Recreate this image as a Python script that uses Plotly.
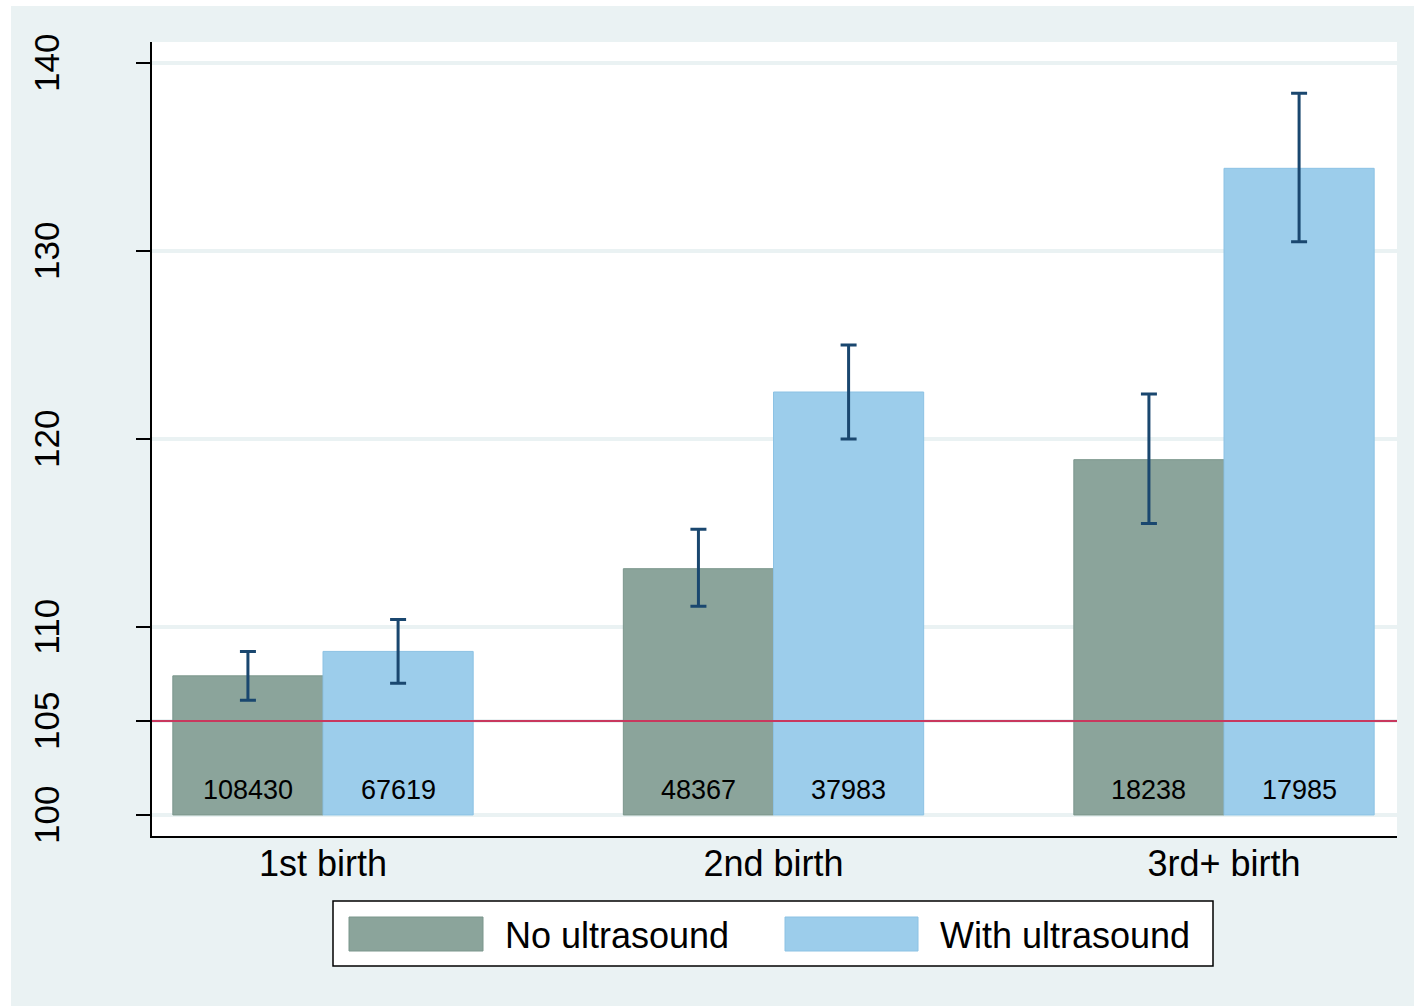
import plotly.graph_objects as go

# ---- data ----
categories = ["1st birth", "2nd birth", "3rd+ birth"]
series_names = ["No ultrasound", "With ultrasound"]
no_us_ratio = [107.4, 113.1, 118.9]
no_us_lo = [106.1, 111.1, 115.5]
no_us_hi = [108.7, 115.2, 122.4]
with_us_ratio = [108.7, 122.5, 134.4]
with_us_lo = [107.0, 120.0, 130.5]
with_us_hi = [110.4, 125.0, 138.4]
no_us_n = [108430, 48367, 18238]
with_us_n = [67619, 37983, 17985]
ytick_vals = [100, 105, 110, 120, 130, 140]
reference_ratio = 105
base_value = 100

# ---- style ----
W, H = 1414, 1006
ML, MR, MT, MB = 152, 17, 42, 170
PW, PH = W - ML - MR, H - MT - MB
BG = "#eaf2f3"
C_NO = "#8ba49b"
C_NO_LINE = "#7b968c"
C_WITH = "#9ccdeb"
C_WITH_LINE = "#8cc2e4"
C_ERR = "#1a476f"
C_RED = "#c8385e"
FONT = "Liberation Sans, Arial, sans-serif"
BAR_W = 1 / 3
X_RANGE = [-0.3796, 2.384]


def px(x):
    return (x - ML) / PW


def py(y):
    return (H - MB - y) / PH


fig = go.Figure()

# reference line (drawn first so bars cover it)
fig.add_trace(go.Scatter(
    x=X_RANGE, y=[reference_ratio, reference_ratio], mode="lines",
    line=dict(color=C_RED, width=2), showlegend=False, hoverinfo="skip",
))

series = [
    (series_names[0], no_us_ratio, no_us_lo, no_us_hi, no_us_n, C_NO, C_NO_LINE, -BAR_W / 2),
    (series_names[1], with_us_ratio, with_us_lo, with_us_hi, with_us_n, C_WITH, C_WITH_LINE, BAR_W / 2),
]

annotations = []
for name, vals, lo, hi, ns, col, lcol, off in series:
    xs = [i + off for i in range(len(categories))]
    fig.add_trace(go.Bar(
        x=xs, y=[v - base_value for v in vals], base=[base_value] * len(vals),
        width=BAR_W, name=name, marker=dict(color=col, line=dict(color=lcol, width=1)),
        showlegend=False, hoverinfo="skip",
    ))
    fig.add_trace(go.Scatter(
        x=xs, y=vals, mode="markers", marker=dict(size=0.1, color="rgba(0,0,0,0)"),
        error_y=dict(type="data", symmetric=False,
                     array=[h - v for h, v in zip(hi, vals)],
                     arrayminus=[v - l for v, l in zip(vals, lo)],
                     color=C_ERR, thickness=3, width=8),
        showlegend=False, hoverinfo="skip",
    ))
    for x, n in zip(xs, ns):
        annotations.append(dict(x=x, y=base_value, xref="x", yref="y", text=str(n),
                                showarrow=False, yanchor="bottom", yshift=8,
                                font=dict(size=27, color="black", family=FONT)))

shapes = [
    dict(type="rect", xref="paper", yref="paper", x0=px(11), x1=px(W + 5), y0=py(H + 5), y1=py(6),
         fillcolor=BG, line=dict(width=0), layer="below"),
    dict(type="rect", xref="paper", yref="paper", x0=0, x1=1, y0=0, y1=1,
         fillcolor="white", line=dict(width=0), layer="below"),
    # legend box
    dict(type="rect", xref="paper", yref="paper", x0=px(333), x1=px(1213), y0=py(966), y1=py(901),
         fillcolor="white", line=dict(color="black", width=1.5), layer="above"),
    dict(type="rect", xref="paper", yref="paper", x0=px(349), x1=px(483), y0=py(951), y1=py(917),
         fillcolor=C_NO, line=dict(color=C_NO_LINE, width=1), layer="above"),
    dict(type="rect", xref="paper", yref="paper", x0=px(785), x1=px(918), y0=py(951), y1=py(917),
         fillcolor=C_WITH, line=dict(color=C_WITH_LINE, width=1), layer="above"),
]

annotations += [
    dict(x=px(503), y=py(935), xref="paper", yref="paper", text=series_names[0], showarrow=False,
         xanchor="left", yanchor="middle", font=dict(size=36, color="black", family=FONT)),
    dict(x=px(938), y=py(935), xref="paper", yref="paper", text=series_names[1], showarrow=False,
         xanchor="left", yanchor="middle", font=dict(size=36, color="black", family=FONT)),
]

fig.update_layout(
    width=W, height=H, autosize=False,
    margin=dict(l=ML, r=MR, t=MT, b=MB, pad=0),
    paper_bgcolor="white", plot_bgcolor="white",
    barmode="overlay", showlegend=False,
    font=dict(family=FONT, color="black"),
    shapes=shapes, annotations=annotations,
    xaxis=dict(range=X_RANGE, tickvals=list(range(len(categories))), ticktext=categories,
               showline=True, linecolor="black", linewidth=2, ticks="", showgrid=False,
               zeroline=False, tickfont=dict(size=36, family=FONT, color="black"),
               ticklabelstandoff=-5, fixedrange=True),
    yaxis=dict(range=[98.88, 141.12], tickvals=ytick_vals, tickangle=-90,
               showline=True, linecolor="black", linewidth=2,
               ticks="outside", ticklen=14, tickwidth=2, tickcolor="black",
               showgrid=True, gridcolor=BG, gridwidth=4, zeroline=False,
               tickfont=dict(size=35, family=FONT, color="black"),
               ticklabelstandoff=63, ticklabelshift=5, fixedrange=True),
)

fig.write_html("out.html", config={"displayModeBar": False},
               post_script="document.body.style.margin='0';")
